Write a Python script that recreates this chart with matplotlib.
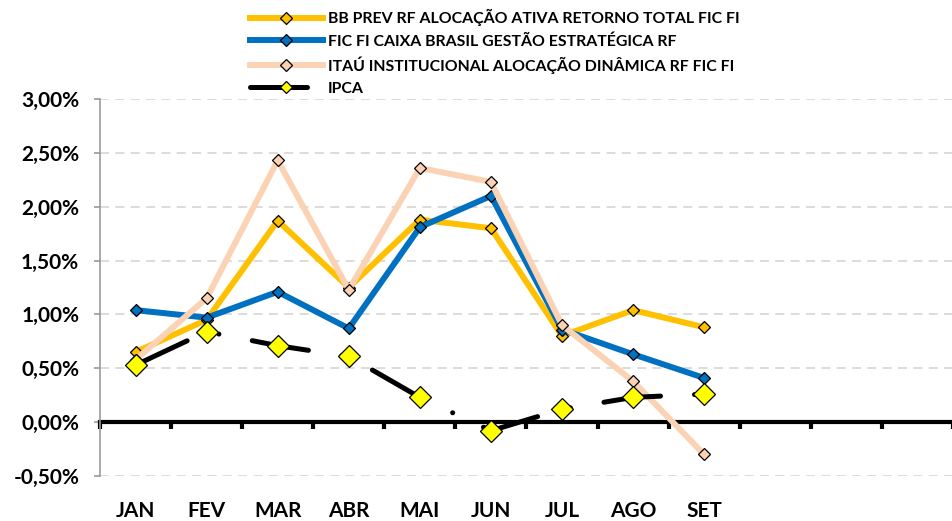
import numpy as np
import matplotlib
matplotlib.use('Agg')
import matplotlib.pyplot as plt
from matplotlib.ticker import FixedLocator, NullFormatter

plt.rcParams['font.family'] = ['Lato', 'DejaVu Sans']
plt.rcParams['font.weight'] = 'bold'

months = ['JAN', 'FEV', 'MAR', 'ABR', 'MAI', 'JUN', 'JUL', 'AGO', 'SET']
n_slots = 12  # eixo com 12 meses, só 9 preenchidos

bb_prev = [0.65, 0.95, 1.87, 1.25, 1.88, 1.80, 0.80, 1.04, 0.88]
caixa = [1.04, 0.97, 1.21, 0.87, 1.81, 2.10, 0.86, 0.63, 0.41]
itau = [0.58, 1.15, 2.43, 1.23, 2.36, 2.23, 0.90, 0.38, -0.30]
ipca = [0.53, 0.84, 0.71, 0.61, 0.23, -0.08, 0.12, 0.23, 0.26]

series_names = ['BB PREV RF ALOCAÇÃO ATIVA RETORNO TOTAL FIC FI',
                'FIC FI CAIXA BRASIL GESTÃO ESTRATÉGICA RF',
                'ITAÚ INSTITUCIONAL ALOCAÇÃO DINÂMICA RF FIC FI',
                'IPCA']
colors = ['#FFC000', '#0070C0', '#FBD3B4']

y_ticks = [-0.5, 0.0, 0.5, 1.0, 1.5, 2.0, 2.5, 3.0]

fig = plt.figure(figsize=(9.53, 5.21), dpi=100)
ax = fig.add_axes([100 / 953, 1 - 476 / 521, 853 / 953, (476 - 99) / 521])

x = np.arange(len(months))

for vals, col, name in zip([bb_prev, caixa, itau], colors, series_names[:3]):
    ax.plot(x, vals, color=col, lw=4.3, marker='D', ms=6.2, mfc=col,
            mec='black', mew=0.9, label=name, solid_joinstyle='miter', zorder=3)

ax.plot(x, ipca, color='black', lw=3.6, dashes=(11.4, 6.8, 0.01, 6.8),
        dash_capstyle='round', marker='D', ms=11, mfc='#FFFF00', mec='black',
        mew=0.9, label=series_names[3], zorder=4)

ax.set_xlim(-0.5, n_slots - 0.5)
ax.set_ylim(-0.5, 3.0)

# grade horizontal tracejada
ax.set_yticks(y_ticks)
ax.set_yticklabels([f'{v:.2f}%'.replace('.', ',') for v in y_ticks])
ax.yaxis.grid(True, color='#D9D9D9', lw=1.3, dashes=(5, 3.5))
ax.set_axisbelow(True)

for s in ['top', 'right']:
    ax.spines[s].set_visible(False)
ax.spines['left'].set_color('#999999')
ax.spines['left'].set_linewidth(1.2)
ax.spines['bottom'].set_position(('data', 0))
ax.spines['bottom'].set_color('black')
ax.spines['bottom'].set_linewidth(3)
ax.spines['bottom'].set_zorder(2)

ax.tick_params(axis='y', direction='out', length=4, width=1.2, color='#999999',
               labelsize=15, pad=11, labelcolor='black')

ax.xaxis.set_major_locator(FixedLocator(np.arange(-0.5, n_slots, 1.0)))
ax.xaxis.set_major_formatter(NullFormatter())
ax.xaxis.set_minor_locator(FixedLocator(x))
ax.set_xticklabels(months, minor=True)
ax.tick_params(axis='x', which='major', direction='out', length=5, width=3,
               color='black')
ax.tick_params(axis='x', which='minor', length=0, labelsize=15, pad=57)

leg = fig.legend(loc='upper left', bbox_to_anchor=(250 / 953, 1 - 9 / 521),
                 frameon=False, fontsize=11.4, handlelength=4.6,
                 handletextpad=0.3, labelspacing=0.5, borderpad=0,
                 borderaxespad=0)
leg.legend_handles[3].set_markersize(6.2)

fig.savefig('out.png', dpi=100)
